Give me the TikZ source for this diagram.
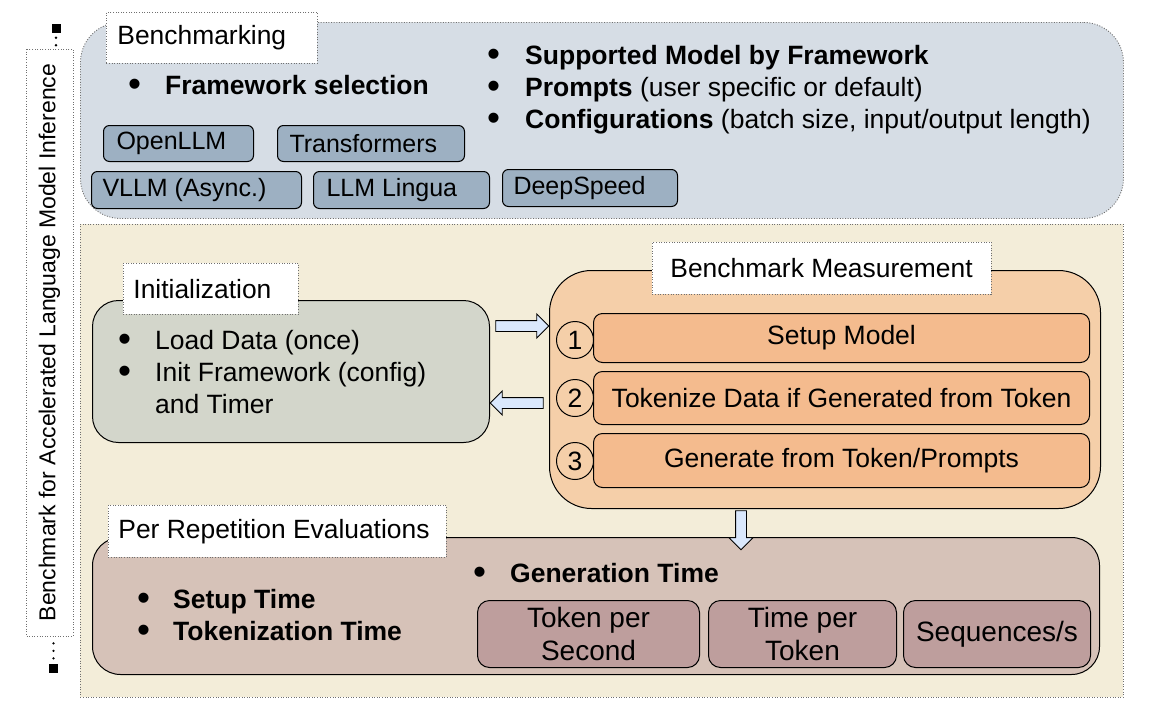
\documentclass[tikz,border=0pt]{standalone}
\usepackage{fontspec}
\setmainfont{Liberation Sans}
\usetikzlibrary{shapes.arrows,calc}
\definecolor{topfill}{HTML}{D6DDE5}
\definecolor{fwfill}{HTML}{9DB0C2}
\definecolor{beige}{HTML}{F3EDD9}
\definecolor{initfill}{HTML}{D3D6CB}
\definecolor{benchfill}{HTML}{F5CFA9}
\definecolor{stepfill}{HTML}{F4BB8E}
\definecolor{repfill}{HTML}{D6C2B8}
\definecolor{minifill}{HTML}{BE9E9D}
\definecolor{arrowfill}{HTML}{DAE8FC}
\definecolor{dotgray}{HTML}{707070}
\newcommand{\bigbul}{\raisebox{-0.11em}{\scalebox{1.4}{\textbullet}}}
\newcommand{\bitem}{\makebox[37pt][l]{\bigbul}}
\begin{document}
\begin{tikzpicture}[x=1pt,y=-1pt,
  dotbox/.style={draw=dotgray, line width=0.9pt, dash pattern=on 1pt off 1.6pt},
  panel/.style={dotbox, anchor=north west, inner sep=0pt},
  solidbox/.style={draw=black, line width=1pt, anchor=north west, inner sep=0pt},
  lbl/.style={dotbox, fill=white, anchor=north west, inner ysep=0pt,
     font=\fontsize{26.4}{30}\selectfont},
  fw/.style={draw=black, line width=1pt, fill=fwfill, rounded corners=6pt, anchor=north west,
     inner ysep=0pt, font=\fontsize{25}{30}\selectfont},
  stepbox/.style={draw=black, line width=1pt, fill=stepfill, rounded corners=9pt, anchor=north west,
     minimum width=496pt, inner sep=0pt, font=\fontsize{26.5}{30}\selectfont},
  numc/.style={circle, draw=black, line width=1pt, fill=benchfill, minimum size=37pt, inner sep=0pt,
     font=\fontsize{26.5}{30}\selectfont},
  mini/.style={draw=black, line width=1pt, fill=minifill, rounded corners=12pt, anchor=north west,
     minimum height=67pt, inner sep=0pt, align=center, font=\fontsize{28}{33}\selectfont},
  blist/.style={anchor=base west, inner sep=0pt, font=\fontsize{26.5}{32}\selectfont},
  blockarrow/.style={single arrow, draw=black, line width=0.9pt, fill=arrowfill, inner sep=5pt,
     single arrow head extend=6.5pt},
  marker/.style={fill=black, minimum size=9pt, inner sep=0pt},
  dotline/.style={draw=black, line width=2.6pt, line cap=round, dash pattern=on 0pt off 7.5pt}
]
\useasboundingbox (0,0) rectangle (1153,715);

% background panels
\node[panel, fill=beige, minimum width=1043pt, minimum height=473pt] (lower) at (80,224) {};
\node[panel, fill=topfill, rounded corners=40pt, minimum width=1043pt, minimum height=196pt] (upper) at (80,22) {};

% vertical label
\node[dotbox, fill=white, rotate=90, minimum width=587pt, minimum height=47pt, inner sep=0pt,
  font=\fontsize{23}{27}\selectfont] (vlabel) at (49.5,342.5) {Benchmark for Accelerated Language Model Inference};
\node[marker] (topmark) at (56,28) {};
\node[marker] (botmark) at (53.5,668) {};
\draw[dotline] ($(topmark.south)+(0,5)$) -- ($(topmark.south |- vlabel.east)+(0,-3)$);
\draw[dotline] ($(botmark.north)+(0,-5)$) -- ($(botmark.north |- vlabel.west)+(0,3)$);

% upper panel contents
\node[lbl, minimum height=51pt, inner xsep=11pt] (benchlbl) at (106,12) {\makebox[189pt][l]{Benchmarking}};
\node[blist] (fwsel) at (128,94) {\begin{tabular}[t]{@{}l@{}}\bitem\textbf{Framework selection}\end{tabular}};
\node[blist] (opts) at (487,64) {\begin{tabular}[t]{@{}l@{}}
\makebox[38pt][l]{\bigbul}\textbf{Supported Model by Framework}\\
\makebox[38pt][l]{\bigbul}\textbf{Prompts} (user specific or default)\\
\makebox[38pt][l]{\bigbul}\textbf{Configurations} (batch size, input/output length)
\end{tabular}};
\node[fw, minimum height=36pt, inner xsep=13pt] (openllm) at (103,125) {\makebox[124pt][l]{OpenLLM}};
\node[fw, minimum height=36pt, inner xsep=12pt] (transformers) at (277,125) {\makebox[163pt][l]{Transformers}};
\node[fw, minimum height=37pt, inner xsep=11pt] (vllm) at (91,171) {\makebox[188pt][l]{VLLM (Async.)}};
\node[fw, minimum height=37pt, inner xsep=13pt] (lingua) at (313,171) {\makebox[150pt][l]{LLM Lingua}};
\node[fw, minimum height=37pt, inner xsep=11pt] (deepspeed) at (502,169) {\makebox[153pt][l]{DeepSpeed}};

% initialization
\node[solidbox, fill=initfill, rounded corners=26pt, minimum width=397pt, minimum height=142pt] (init) at (92,300) {};
\node[lbl, minimum height=51pt, inner xsep=10pt] (initlbl) at (123,263) {\makebox[155pt][l]{Initialization}};
\node[blist] (initlist) at (118,349) {\begin{tabular}[t]{@{}l@{}}
\bitem Load Data (once)\\
\bitem Init Framework (config)\\
\hspace{37pt}and Timer
\end{tabular}};

% benchmark measurement
\node[solidbox, fill=benchfill, rounded corners=42pt, minimum width=551pt, minimum height=238pt] (bench) at (549,270) {};
\node[lbl, minimum height=52pt, inner xsep=18pt] (benchmlbl) at (652,242) {\makebox[303pt][l]{Benchmark Measurement}};
\node[stepbox, minimum height=49pt] (s1) at (593,313) {\raisebox{-2pt}{Setup Model}};
\node[stepbox, minimum height=53pt] (s2) at (593,371) {\raisebox{-1pt}{Tokenize Data if Generated from Token}};
\node[stepbox, minimum height=54pt] (s3) at (593,433) {\raisebox{-1pt}{Generate from Token/Prompts}};
\node[numc] (c1) at (575,340) {1};
\node[numc] (c2) at (575,398) {2};
\node[numc] (c3) at (575,461) {3};

% per repetition
\node[solidbox, fill=repfill, rounded corners=28pt, minimum width=1007pt, minimum height=137pt] (rep) at (92,537) {};
\node[lbl, minimum height=52pt, inner xsep=10pt] (replbl) at (108,505) {\makebox[318pt][l]{Per Repetition Evaluations}};
\node[blist] (genlist) at (473,582) {\begin{tabular}[t]{@{}l@{}}\bitem\textbf{Generation Time}\end{tabular}};
\node[blist] (timelist) at (137,608) {\begin{tabular}[t]{@{}l@{}}
\makebox[36pt][l]{\bigbul}\textbf{Setup Time}\\
\makebox[36pt][l]{\bigbul}\textbf{Tokenization Time}
\end{tabular}};
\node[mini, minimum width=222pt] (tps) at (477,600) {Token per\\Second};
\node[mini, minimum width=188pt] (tpt) at (708,600) {Time per\\Token};
\node[mini, minimum width=187pt] (seqs) at (903,600) {Sequences/s};

% block arrows
\node[blockarrow, minimum height=53pt] (toBench) at ($(init.east |- 0,326)!0.5!(bench.west |- 0,326)$) {};
\node[blockarrow, minimum height=53pt, shape border rotate=180] (toInit) at ($(init.east |- 0,403)!0.5!(bench.west |- 0,403)$) {};
\node[blockarrow, minimum height=39pt, shape border rotate=270] (toRep) at (741,527.5) {};
\end{tikzpicture}
\end{document}
